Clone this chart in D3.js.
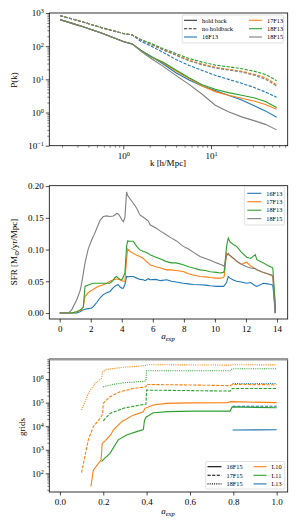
<!DOCTYPE html>
<html><head><meta charset="utf-8">
<script src="https://cdn.jsdelivr.net/npm/d3@7"></script>
<style>
body{margin:0;background:#fff}
text{font-family:"Liberation Serif","DejaVu Serif",serif;fill:#000}
</style>
</head><body>
<svg id="c" width="300" height="528"></svg>
<script>
// ---------------- DATA ----------------
// Panel 1: P(k), k in h/Mpc
const pkK = [0.19,0.316,0.562,1.0,1.26,1.58,2.0,2.82,3.98,5.62,7.94,11.2,15.8,22.4,31.6,41.7,56.1];
const pkSolid = {
  "16F13": [631,417,251,138,117,76,52.5,29.5,15.8,9.55,6.31,4.57,3.31,2.40,1.58,1.12,0.72],
  "17F13": [631,417,251,138,117,76,50.1,31.6,17.8,10.5,6.31,4.27,3.31,2.69,2.19,1.74,1.26],
  "18F13": [631,417,251,138,117,76,50.1,33.1,19.1,11.2,6.92,5.01,3.98,3.31,2.75,2.14,1.41],
  "18F15": [631,417,251,138,117,71,45.7,25.1,13.2,7.08,3.55,1.66,1.05,0.74,0.56,0.44,0.30]
};
const pkDashed = {
  "16F13": [832,575,363,240,219,141,105,66.1,39.8,26.3,18.6,13.2,10.0,7.59,5.62,4.17,2.88],
  "17F13": [832,575,363,240,219,158,120,79.4,55.0,38.0,28.8,22.9,20.0,17.4,14.1,11.2,6.92],
  "18F13": [832,575,363,240,219,158,126,85.1,60.3,42.7,33.1,26.9,24.0,20.9,17.4,14.1,9.12],
  "18F15": [832,575,363,240,219,155,117,77.6,53.7,36.3,27.5,21.9,19.1,16.6,13.2,10.2,6.31]
};
const pkNames = ["16F13","17F13","18F13","18F15"];

// Panel 2: SFR vs a_exp
const sfrX = [0,0.56,0.77,1.1,1.31,1.42,1.52,1.63,1.84,2.06,2.16,2.4,2.6,2.81,3.03,3.24,3.45,3.56,3.67,3.78,3.89,4.0,4.1,4.2,4.31,4.38,4.53,4.74,4.96,5.17,5.39,5.5,5.71,5.82,6.2,6.5,6.89,7.2,7.5,7.96,8.3,8.6,9.04,9.4,9.7,10.1,10.33,10.54,10.6,10.75,10.86,10.97,11.19,11.4,11.7,12.05,12.3,12.6,12.7,13.12,13.4,13.66,13.73,13.87,13.9];
const sfrSeries = {
  "16F13": [0,0,0,0,0.002,0.004,0.005,0.006,0.007,0.008,0.010,0.017,0.024,0.029,0.032,0.034,0.040,0.042,0.044,0.0445,0.041,0.039,0.039,0.045,0.0575,0.057,0.0575,0.0575,0.055,0.053,0.0524,0.051,0.054,0.0524,0.053,0.051,0.0524,0.050,0.049,0.047,0.046,0.045,0.0445,0.044,0.043,0.042,0.042,0.042,0.043,0.048,0.0575,0.055,0.052,0.050,0.049,0.047,0.048,0.043,0.042,0.047,0.046,0.0445,0.044,0.01,0],
  "17F13": [0,0,0,0.002,0.004,0.006,0.010,0.026,0.032,0.036,0.037,0.041,0.043,0.0445,0.047,0.050,0.0524,0.053,0.054,0.053,0.0524,0.051,0.050,0.050,0.085,0.101,0.097,0.094,0.091,0.089,0.086,0.083,0.079,0.076,0.073,0.071,0.068,0.068,0.067,0.0655,0.062,0.060,0.0575,0.057,0.056,0.055,0.055,0.056,0.058,0.094,0.092,0.09,0.086,0.081,0.077,0.080,0.074,0.070,0.068,0.064,0.062,0.0587,0.058,0.02,0],
  "18F13": [0,0,0,0.002,0.005,0.007,0.009,0.042,0.044,0.046,0.047,0.047,0.047,0.047,0.047,0.047,0.052,0.056,0.0575,0.055,0.053,0.052,0.057,0.063,0.105,0.1137,0.113,0.113,0.105,0.0995,0.097,0.096,0.094,0.0917,0.088,0.085,0.081,0.079,0.079,0.076,0.073,0.071,0.068,0.067,0.065,0.064,0.063,0.064,0.066,0.105,0.118,0.112,0.108,0.105,0.096,0.088,0.086,0.092,0.084,0.079,0.075,0.072,0.071,0.02,0],
  "18F15": [0,0,0.005,0.021,0.035,0.047,0.062,0.079,0.101,0.115,0.12,0.134,0.146,0.152,0.153,0.152,0.153,0.1545,0.157,0.156,0.152,0.147,0.144,0.150,0.191,0.185,0.180,0.173,0.165,0.1545,0.151,0.149,0.145,0.139,0.134,0.129,0.123,0.118,0.114,0.105,0.101,0.096,0.089,0.086,0.083,0.079,0.077,0.075,0.073,0.090,0.094,0.091,0.0865,0.082,0.077,0.073,0.071,0.070,0.068,0.064,0.062,0.060,0.058,0.0,0]
};

// Panel 3: grids vs a_exp (run / level)
const gridSeries = [
  {run:"16F15", level:"L10", a:[0.143,0.154,0.19,0.195,0.208,0.234,0.246,0.285,0.338,0.385,0.392,0.431,0.492,0.6,0.775,0.79,1.0],
   n:[28,135,372,1860,2400,4270,6920,15500,29500,40700,57500,79400,93300,97700,100000,110000,100000]},
  {run:"16F15", level:"L11", a:[0.192,0.2,0.231,0.269,0.308,0.354,0.385,0.39,0.397,0.431,0.5,0.615,0.785,0.795,1.0],
   n:[316,380,708,2630,4270,5890,7240,17400,24000,37200,41700,43700,43700,66100,60300]},
  {run:"16F15", level:"L13", a:[0.797,1.0], n:[6900,7100]},
  {run:"17F15", level:"L10", a:[0.1,0.115,0.131,0.154,0.185,0.197,0.2,0.231,0.277,0.338,0.397,0.40,0.6,0.785,0.795,1.0],
   n:[107,513,2630,9550,21400,31600,93300,178000,288000,398000,468000,589000,562000,525000,589000,575000]},
  {run:"17F15", level:"L11", a:[0.2,0.231,0.292,0.369,0.397,0.40,0.6,0.785,0.795,1.0],
   n:[17000,34700,57500,79400,87100,339000,324000,309000,398000,398000]},
  {run:"17F15", level:"L13", a:[0.797,1.0], n:[70800,70800]},
  {run:"18F15", level:"L10", a:[0.1,0.131,0.162,0.192,0.197,0.215,0.292,0.369,0.397,0.40,0.6,0.785,0.795,1.0],
   n:[49000,245000,660000,1070000,2040000,2570000,3160000,3550000,3800000,4070000,3980000,3890000,4070000,3980000]},
  {run:"18F15", level:"L11", a:[0.2,0.25,0.292,0.369,0.397,0.40,0.6,0.785,0.795,1.0],
   n:[468000,603000,692000,776000,832000,2240000,2240000,2240000,2750000,2750000]},
  {run:"18F15", level:"L13", a:[0.797,1.0], n:[646000,646000]}
];

const colors = {"16F13":"#1f77b4","17F13":"#ff7f0e","18F13":"#2ca02c","18F15":"#7f7f7f",
                "L10":"#ff7f0e","L11":"#2ca02c","L13":"#1f77b4"};
const runDash = {"16F15":null,"17F15":"3.2,1.4","18F15":"1,1.2"};

// ---------------- DRAW ----------------
const svg = d3.select("#c");
const L = 49.3, R = 287.7;

function sup(sel, d){
  const e = Math.round(Math.log10(d));
  sel.text("10");
  sel.append("tspan").attr("dy","-0.5em").attr("font-size","0.68em").text(e<0 ? "\u2212"+(-e) : e);
}
function minorVals(dom){
  const out=[]; const lo=Math.floor(Math.log10(dom[0])), hi=Math.ceil(Math.log10(dom[1]));
  for(let e=lo;e<=hi;e++) for(let m=2;m<=9;m++){const v=m*Math.pow(10,e); if(v>=dom[0]&&v<=dom[1]) out.push(v);}
  return out;
}
function styleAxis(g){
  g.select(".domain").remove();
  g.selectAll("line").attr("stroke","#000").attr("stroke-width",0.7);
  g.selectAll("text").attr("font-size",9).attr("font-family","'Liberation Serif','DejaVu Serif',serif");
}
function frame(top,bot){
  svg.append("rect").attr("x",L).attr("y",top).attr("width",R-L).attr("height",bot-top)
    .attr("fill","none").attr("stroke","#000").attr("stroke-width",0.8);
}
function legendBox(x,y,w,h){
  svg.append("rect").attr("x",x).attr("y",y).attr("width",w).attr("height",h).attr("rx",1.5)
    .attr("fill","#fff").attr("fill-opacity",0.8).attr("stroke","#ccc").attr("stroke-width",0.6);
}
function legendItem(x,y,color,dash,label,len){
  svg.append("line").attr("x1",x).attr("x2",x+len).attr("y1",y).attr("y2",y)
    .attr("stroke",color).attr("stroke-width",1.1).attr("stroke-dasharray",dash);
  svg.append("text").attr("x",x+len+5).attr("y",y+2.2).attr("font-size",6.3).text(label);
}

// ===== Panel 1 =====
{
  const top=13, bot=145.7;
  const x = d3.scaleLog().domain([0.1433,75]).range([L,R]);
  const y = d3.scaleLog().domain([0.1,1000]).range([bot,top]);
  const line = d3.line().x(d=>x(d[0])).y(d=>y(d[1]));
  const clip = svg.append("clipPath").attr("id","cp1").append("rect").attr("x",L).attr("y",top).attr("width",R-L).attr("height",bot-top);
  const g = svg.append("g").attr("clip-path","url(#cp1)");
  pkNames.forEach(n=>{
    g.append("path").datum(pkK.map((k,i)=>[k,pkDashed[n][i]])).attr("d",line)
      .attr("fill","none").attr("stroke",colors[n]).attr("stroke-width",1.1).attr("stroke-dasharray","3.2,1.4");
  });
  pkNames.forEach(n=>{
    g.append("path").datum(pkK.map((k,i)=>[k,pkSolid[n][i]])).attr("d",line)
      .attr("fill","none").attr("stroke",colors[n]).attr("stroke-width",1.1);
  });
  const xa = svg.append("g").attr("transform",`translate(0,${bot})`)
    .call(d3.axisBottom(x).tickValues([1,10]).tickSize(3.5).tickPadding(3).tickFormat(""));
  xa.selectAll(".tick text").each(function(d){sup(d3.select(this),d);});
  styleAxis(xa);
  const xm = svg.append("g").attr("transform",`translate(0,${bot})`)
    .call(d3.axisBottom(x).tickValues(minorVals(x.domain())).tickSize(2).tickFormat(""));
  styleAxis(xm); xm.selectAll("line").attr("stroke-width",0.5);
  const ya = svg.append("g").attr("transform",`translate(${L},0)`)
    .call(d3.axisLeft(y).tickValues([0.1,1,10,100,1000]).tickSize(3.5).tickPadding(2).tickFormat(""));
  ya.selectAll(".tick text").each(function(d){sup(d3.select(this),d);});
  styleAxis(ya);
  const ym = svg.append("g").attr("transform",`translate(${L},0)`)
    .call(d3.axisLeft(y).tickValues(minorVals(y.domain())).tickSize(2).tickFormat(""));
  styleAxis(ym); ym.selectAll("line").attr("stroke-width",0.5);
  frame(top,bot);
  svg.append("text").attr("transform","translate(17,80) rotate(-90)").attr("text-anchor","middle").attr("font-size",9).text("P(k)");
  svg.append("text").attr("x",168).attr("y",166).attr("text-anchor","middle").attr("font-size",9).text("k [h/Mpc]");
  legendBox(182.3,15,101,28);
  legendItem(184,20.3,"#333",null,"hold back",13);
  legendItem(184,28.7,"#333","3.2,1.4","no holdback",13);
  legendItem(184,37,colors["16F13"],null,"16F13",13);
  legendItem(249,20.3,colors["17F13"],null,"17F13",13);
  legendItem(249,28.7,colors["18F13"],null,"18F13",13);
  legendItem(249,37,colors["18F15"],null,"18F15",13);
}

// ===== Panel 2 =====
{
  const top=185.7, bot=319;
  const x = d3.scaleLinear().domain([-0.67,14.69]).range([L,R]);
  const y = d3.scaleLinear().domain([-0.0094,0.2006]).range([bot,top]);
  const line = d3.line().x(d=>x(d[0])).y(d=>y(d[1]));
  pkNames.forEach(n=>{
    svg.append("path").datum(sfrX.map((v,i)=>[v,sfrSeries[n][i]])).attr("d",line)
      .attr("fill","none").attr("stroke",colors[n]).attr("stroke-width",1.1);
  });
  const xa = svg.append("g").attr("transform",`translate(0,${bot})`)
    .call(d3.axisBottom(x).tickValues([0,2,4,6,8,10,12,14]).tickSize(3.5).tickPadding(3).tickFormat(d3.format("d")));
  styleAxis(xa);
  const ya = svg.append("g").attr("transform",`translate(${L},0)`)
    .call(d3.axisLeft(y).tickValues([0,0.05,0.1,0.15,0.2]).tickSize(3.5).tickPadding(2).tickFormat(d3.format(".2f")));
  styleAxis(ya);
  frame(top,bot);
  const yl = svg.append("text").attr("transform","translate(17,252) rotate(-90)").attr("text-anchor","middle").attr("font-size",9);
  yl.append("tspan").text("SFR [M");
  yl.append("tspan").attr("dy","2").attr("font-size",6.5).text("\u2299");
  yl.append("tspan").attr("dy","-2").text("/yr/Mpc]");
  const xl = svg.append("text").attr("x",168).attr("y",339).attr("text-anchor","middle").attr("font-size",9).attr("font-style","italic");
  xl.append("tspan").text("a");
  xl.append("tspan").attr("dy","2").attr("font-size",6.5).text("exp");
  legendBox(244.3,186.5,40,38.5);
  pkNames.forEach((n,i)=>legendItem(247.3,193.3+i*8.45,colors[n],null,n,14));
}

// ===== Panel 3 =====
{
  const top=359, bot=492;
  const x = d3.scaleLinear().domain([-0.049,1.051]).range([L,R]);
  const y = d3.scaleLog().domain([16.2,7.1e6]).range([bot,top]);
  const line = d3.line().x(d=>x(d[0])).y(d=>y(d[1]));
  gridSeries.forEach(s=>{
    svg.append("path").datum(s.a.map((v,i)=>[v,s.n[i]])).attr("d",line)
      .attr("fill","none").attr("stroke",colors[s.level]).attr("stroke-width",1.1)
      .attr("stroke-dasharray",runDash[s.run]);
  });
  const xa = svg.append("g").attr("transform",`translate(0,${bot})`)
    .call(d3.axisBottom(x).tickValues([0,0.2,0.4,0.6,0.8,1.0]).tickSize(3.5).tickPadding(3).tickFormat(d3.format(".1f")));
  styleAxis(xa);
  const ya = svg.append("g").attr("transform",`translate(${L},0)`)
    .call(d3.axisLeft(y).tickValues([100,1e3,1e4,1e5,1e6]).tickSize(3.5).tickPadding(2).tickFormat(""));
  ya.selectAll(".tick text").each(function(d){sup(d3.select(this),d);});
  styleAxis(ya);
  const ym = svg.append("g").attr("transform",`translate(${L},0)`)
    .call(d3.axisLeft(y).tickValues(minorVals(y.domain())).tickSize(2).tickFormat(""));
  styleAxis(ym); ym.selectAll("line").attr("stroke-width",0.5);
  frame(top,bot);
  svg.append("line").attr("x1",L).attr("x2",R).attr("y1",top+0.8).attr("y2",top+0.8).attr("stroke","#999").attr("stroke-width",1.6);
  svg.append("text").attr("transform","translate(25,427) rotate(-90)").attr("text-anchor","middle").attr("font-size",9).text("grids");
  const xl = svg.append("text").attr("x",168).attr("y",514).attr("text-anchor","middle").attr("font-size",9).attr("font-style","italic");
  xl.append("tspan").text("a");
  xl.append("tspan").attr("dy","2").attr("font-size",6.5).text("exp");
  legendBox(205.7,461.5,79,27.5);
  ["16F15","17F15","18F15"].forEach((r,i)=>legendItem(207.5,466.7+i*8.6,"#000",runDash[r],r,14));
  ["L10","L11","L13"].forEach((l,i)=>legendItem(253.5,466.7+i*8.6,colors[l],null,l,13));
}
</script>
</body></html>
